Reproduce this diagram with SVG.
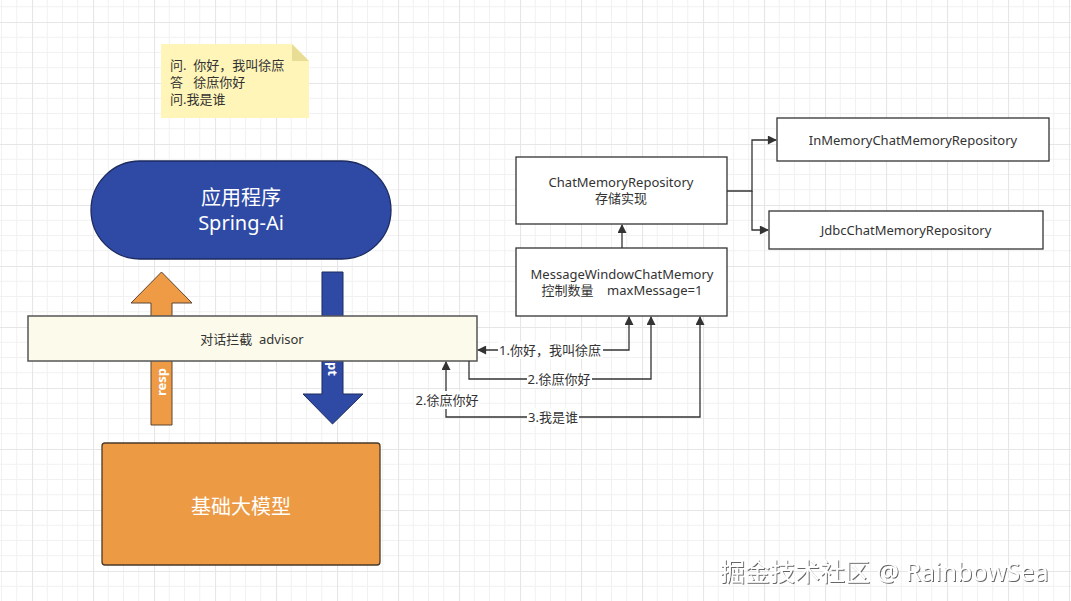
<svg xmlns="http://www.w3.org/2000/svg" width="1071" height="601" viewBox="0 0 1071 601">
<style>
  text { font-family: "Noto Sans", "Noto Sans CJK SC", sans-serif; white-space: pre; }
  .lbl { font-size: 13px; fill: #333; text-anchor: middle; }
  .box { fill: #fff; stroke: #333; stroke-width: 1.3; }
  .conn { fill: none; stroke: #333; stroke-width: 1.3; }
  .lblbg { fill: #fff; }
  .big { font-size: 20px; fill: #fff; text-anchor: middle; }
  .rot { font-size: 13px; font-weight: bold; fill: #fff; }
</style>
<defs>
  <pattern id="grid" x="32" y="22" width="61" height="61" patternUnits="userSpaceOnUse">
    <path d="M15.25,0V61M30.5,0V61M45.75,0V61M0,15.25H61M0,30.5H61M0,45.75H61" fill="none" stroke="#f1f1f1" stroke-width="1"/>
    <path d="M0.5,0V61M0,0.5H61" fill="none" stroke="#e6e6e6" stroke-width="1.2"/>
  </pattern>
  <marker id="arr" viewBox="0 0 10 10" refX="9" refY="5" markerWidth="11" markerHeight="9" markerUnits="userSpaceOnUse" orient="auto-start-reverse">
    <path d="M0,0 L10,5 L0,10 Z" fill="#333"/>
  </marker>
  <filter id="sh" x="-5%" y="-20%" width="110%" height="140%">
    <feDropShadow dx="1" dy="1" stdDeviation="0.6" flood-color="#555" flood-opacity="0.9"/>
  </filter>
</defs>
<rect width="1071" height="601" fill="#fff"/>
<rect width="1071" height="601" fill="url(#grid)"/>

<g id="note">
  <path d="M161,44 H292 L309,61 V118 H161 Z" fill="#fff5b8"/>
  <path d="M292,44 L309,61 H292 Z" fill="#e9dc95"/>
  <text x="170" y="70" font-size="13" fill="#333" xml:space="preserve">问.  你好，我叫徐庶</text>
  <text x="170" y="87" font-size="13" fill="#333" xml:space="preserve">答   徐庶你好</text>
  <text x="170" y="104" font-size="13" fill="#333">问.我是谁</text>
</g>

<g id="app">
  <rect x="91" y="161" width="300" height="98" rx="49" ry="49" fill="#2e4aa5" stroke="#1c2a5e" stroke-width="1.3"/>
  <text class="big" x="241" y="205">应用程序</text>
  <text class="big" x="241" y="230">Spring-Ai</text>
</g>

<g id="response-arrow">
  <path d="M161.5,272 L192,303 H172 V425 H151 V303 H131 Z" fill="#ef9a45" stroke="#5a4632" stroke-width="1"/>
  <text class="rot" transform="translate(166,396) rotate(-90)">resp</text>
</g>

<g id="request-arrow">
  <path d="M322,272 H343 V394 H363 L332.5,424 L303,394 H322 Z" fill="#2e4aa5" stroke="#1c2a5e" stroke-width="1"/>
  <text class="rot" transform="translate(328,362) rotate(90)">pt</text>
</g>

<g id="advisor">
  <rect x="28" y="316" width="449" height="45" fill="#fcfaea" stroke="#555" stroke-width="1.5"/>
  <text class="lbl" x="252" y="344" xml:space="preserve">对话拦截  advisor</text>
</g>

<g id="model">
  <rect x="102" y="443" width="278" height="122" rx="3" ry="3" fill="#ed9a44" stroke="#4a3a2a" stroke-width="1.3"/>
  <text class="big" x="241" y="514">基础大模型</text>
</g>

<g id="chat-repo">
  <rect class="box" x="516" y="157" width="211" height="67"/>
  <text class="lbl" x="621" y="187">ChatMemoryRepository</text>
  <text class="lbl" x="621" y="203">存储实现</text>
</g>

<g id="window-memory">
  <rect class="box" x="516" y="248" width="211" height="68"/>
  <text class="lbl" x="622" y="279">MessageWindowChatMemory</text>
  <text class="lbl" x="622" y="295" xml:space="preserve">控制数量    maxMessage=1</text>
</g>

<g id="inmemory-repo">
  <rect class="box" x="777" y="118" width="272" height="43"/>
  <text class="lbl" x="913" y="145">InMemoryChatMemoryRepository</text>
</g>

<g id="jdbc-repo">
  <rect class="box" x="769" y="211" width="274" height="38"/>
  <text class="lbl" x="906" y="235">JdbcChatMemoryRepository</text>
</g>

<g id="connectors">
  <path class="conn" d="M727,191 H752 V140 H776" marker-end="url(#arr)"/>
  <path class="conn" d="M752,191 V230 H768" marker-end="url(#arr)"/>
  <path class="conn" d="M622,248 V225" marker-end="url(#arr)"/>
  <path class="conn" d="M478,350 H629 V317" marker-start="url(#arr)" marker-end="url(#arr)"/>
  <path class="conn" d="M469,361 V379 H651 V317" marker-end="url(#arr)"/>
  <path class="conn" d="M700,317 V417 H446 V362" marker-start="url(#arr)" marker-end="url(#arr)"/>
  <rect class="lblbg" x="498" y="341" width="105" height="18"/>
  <text class="lbl" x="550" y="355">1.你好，我叫徐庶</text>
  <rect class="lblbg" x="527" y="370" width="65" height="18"/>
  <text class="lbl" x="559" y="384">2.徐庶你好</text>
  <rect class="lblbg" x="527" y="408" width="52" height="18"/>
  <text class="lbl" x="553" y="422">3.我是谁</text>
  <rect class="lblbg" x="415" y="391" width="64" height="18"/>
  <text class="lbl" x="447" y="405">2.徐庶你好</text>
</g>

<g id="watermark">
  <text x="720" y="581" font-size="25" fill="#fff" filter="url(#sh)">掘金技术社区 @ RainbowSea</text>
</g>
</svg>
